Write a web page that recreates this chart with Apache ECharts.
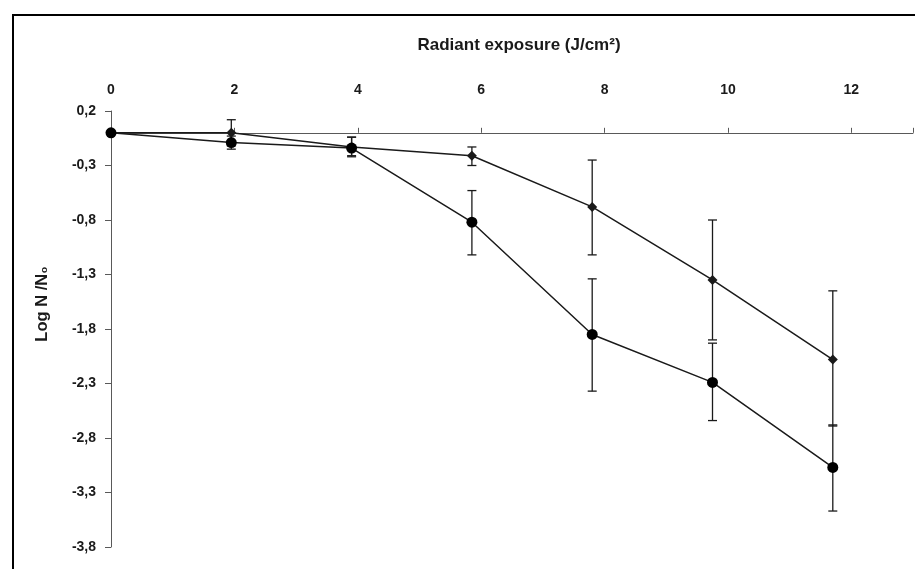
<!DOCTYPE html>
<html>
<head>
<meta charset="utf-8">
<script src="https://cdn.jsdelivr.net/npm/echarts@6/dist/echarts.min.js"></script>
<style>
  html, body { margin: 0; padding: 0; background: #fff; }
  #chart { width: 915px; height: 569px; }
</style>
</head>
<body>
<div id="chart"></div>
<script>
// radiant exposure (J/cm2)
const exposure = [0, 1.95, 3.9, 5.85, 7.8, 9.75, 11.7]

// diamond series: mean and error bar ends
const diamondMean = [0, 0, -0.13, -0.21, -0.68, -1.35, -2.08]
const diamondHigh = [0, 0.12, -0.04, -0.13, -0.25, -0.80, -1.45]
const diamondLow = [0, -0.12, -0.21, -0.30, -1.12, -1.90, -2.69]

// circle series: mean and error bar ends
const circleMean = [0, -0.09, -0.14, -0.82, -1.85, -2.29, -3.07]
const circleHigh = [0, -0.03, -0.04, -0.53, -1.34, -1.93, -2.68]
const circleLow = [0, -0.15, -0.22, -1.12, -2.37, -2.64, -3.47]

const xTicks = [0, 2, 4, 6, 8, 10, 12]
const yTicks = [0.2, -0.3, -0.8, -1.3, -1.8, -2.3, -2.8, -3.3, -3.8]

const font = '"Liberation Sans", Arial, sans-serif'
const ink = '#1a1a1a'
const axisGray = '#595959'

const pairs = (xs, ys) => xs.map((x, i) => [x, ys[i]])
const bars = (xs, lo, hi) => xs.map((x, i) => [x, lo[i], hi[i]])

function errorBar(params, api) {
  const x = api.value(0)
  const lo = api.coord([x, api.value(1)])
  const hi = api.coord([x, api.value(2)])
  const half = 4.5
  const style = { stroke: ink, lineWidth: 1.3 }
  return {
    type: 'group',
    children: [
      { type: 'line', shape: { x1: lo[0], y1: lo[1], x2: hi[0], y2: hi[1] }, style },
      { type: 'line', shape: { x1: lo[0] - half, y1: lo[1], x2: lo[0] + half, y2: lo[1] }, style },
      { type: 'line', shape: { x1: hi[0] - half, y1: hi[1], x2: hi[0] + half, y2: hi[1] }, style }
    ]
  }
}

const chart = echarts.init(document.getElementById('chart'))
chart.setOption({
  animation: false,
  backgroundColor: '#fff',
  graphic: [{
    type: 'rect',
    shape: { x: 13, y: 15, width: 1000, height: 1000 },
    style: { fill: 'none', stroke: '#000', lineWidth: 2 },
    silent: true
  }],
  grid: { left: 111, top: 111, right: 2, bottom: 22 },
  xAxis: [{
    type: 'value',
    position: 'top',
    min: 0,
    max: 13,
    interval: 2,
    axisLine: { onZero: true, lineStyle: { color: axisGray, width: 1 } },
    axisTick: { show: true, length: 5, lineStyle: { color: axisGray } },
    axisLabel: { show: false },
    splitLine: { show: false }
  }, {
    type: 'value',
    position: 'top',
    min: 0,
    max: 13,
    interval: 2,
    axisLine: { show: false, onZero: false },
    axisTick: { show: false },
    axisLabel: {
      margin: 14,
      color: ink,
      fontFamily: font,
      fontWeight: 'bold',
      fontSize: 14,
      showMaxLabel: false,
      formatter: v => (xTicks.includes(v) ? String(v) : '')
    },
    splitLine: { show: false },
    name: 'Radiant exposure (J/cm²)',
    nameLocation: 'middle',
    nameGap: 57,
    nameTextStyle: { color: ink, fontFamily: font, fontWeight: 'bold', fontSize: 17, padding: [0, 0, 0, 14] }
  }],
  yAxis: {
    type: 'value',
    min: -3.8,
    max: 0.2,
    interval: 0.5,
    axisLine: { onZero: false, lineStyle: { color: axisGray, width: 1 } },
    axisTick: { show: true, length: 6, lineStyle: { color: axisGray } },
    axisLabel: {
      margin: 15,
      color: ink,
      fontFamily: font,
      fontWeight: 'bold',
      fontSize: 14,
      formatter: v => {
        const t = yTicks.find(k => Math.abs(k - v) < 1e-6)
        return t === undefined ? '' : t.toFixed(1).replace('.', ',')
      }
    },
    splitLine: { show: false },
    name: 'Log N /N₀',
    nameLocation: 'middle',
    nameGap: 60,
    nameTextStyle: { color: ink, fontFamily: font, fontWeight: 'bold', fontSize: 16.5, padding: [0, 0, 0, 50] }
  },
  series: [{
    name: 'diamond',
    type: 'line',
    data: pairs(exposure, diamondMean),
    symbol: 'diamond',
    symbolSize: 10,
    lineStyle: { color: ink, width: 1.5 },
    itemStyle: { color: ink },
    z: 3
  }, {
    name: 'circle',
    type: 'line',
    data: pairs(exposure, circleMean),
    symbol: 'circle',
    symbolSize: 11,
    lineStyle: { color: ink, width: 1.5 },
    itemStyle: { color: '#000' },
    z: 3
  }, {
    type: 'custom',
    renderItem: errorBar,
    data: bars(exposure, diamondLow, diamondHigh),
    z: 2
  }, {
    type: 'custom',
    renderItem: errorBar,
    data: bars(exposure, circleLow, circleHigh),
    z: 2
  }]
})
</script>
</body>
</html>
